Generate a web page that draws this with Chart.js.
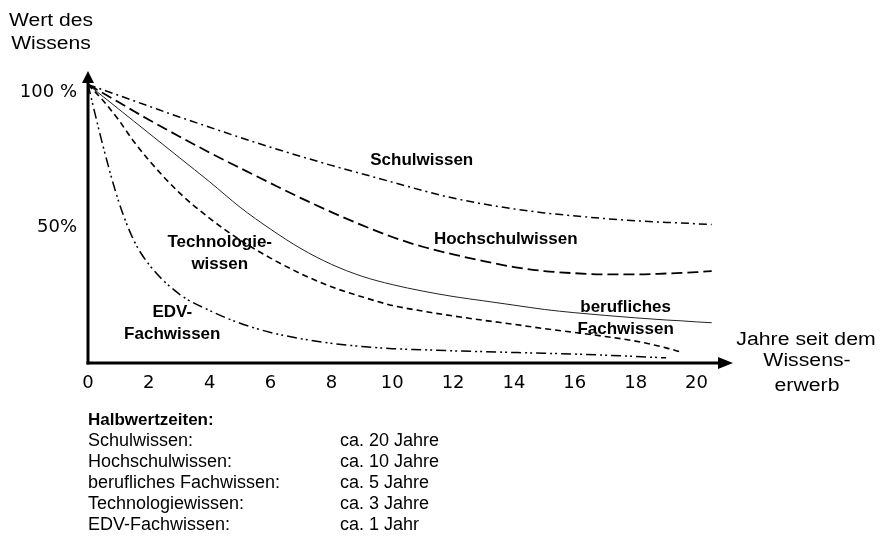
<!DOCTYPE html>
<html lang="de">
<head>
<meta charset="utf-8">
<script src="https://cdn.jsdelivr.net/npm/chart.js@4.4.1/dist/chart.umd.min.js"></script>
<style>
  html, body { margin: 0; padding: 0; background: #fff; }
</style>
</head>
<body>
<canvas id="myChart" width="880" height="536"></canvas>
<script>
// Jahre seit dem Wissenserwerb (shared x values of all curves)
const years = [0, 0.5, 1, 1.5, 2, 3, 4, 5, 6, 7, 8, 9, 10, 11, 12, 13, 14, 15, 16, 17, 18, 19, 19.5, 20, 20.5];

// Wert des Wissens in % (null = curve already ended)
const schulwissen     = [103, 101, 99, 97, 95, 91, 87.2, 83.4, 79.8, 76.4, 73.1, 70, 66.9, 63.8, 61, 58.8, 57, 55.5, 54.4, 53.4, 52.6, 52, 51.8, 51.5, 51.2];
const hochschulwissen = [103, 99.8, 96.5, 93.2, 90, 83.8, 77.8, 72.1, 66.5, 61, 55.8, 51, 46.6, 43, 40.2, 37.7, 35.5, 34, 33.2, 32.8, 32.8, 33.1, 33.3, 33.6, 34];
const beruflich       = [103, 98.5, 94, 89.5, 85, 76, 67, 57.6, 49.5, 42.3, 36.5, 32.1, 29, 26.6, 24.6, 23, 21.4, 19.8, 18.6, 17.6, 16.7, 15.9, 15.6, 15.2, 14.9];
const technologie     = [103, 97, 90, 82, 75, 63, 53.5, 45.5, 38.8, 33, 28.2, 24.5, 21.3, 19.2, 17.4, 15.8, 14.3, 12.7, 11.3, 9.8, 8.1, 5.6, 4, null, null];
const edv             = [103, 80, 60, 45.5, 36.5, 25.5, 19.4, 14.7, 11.3, 9, 7.3, 6.1, 5.3, 4.9, 4.5, 4.2, 3.9, 3.6, 3.3, 2.9, 2.4, 1.9, null, null, null];

// axis ticks
const xTicks = [0, 2, 4, 6, 8, 10, 12, 14, 16, 18, 20];
const yTicks = [50, 100];
const yTickLabels = ['50%', '100 %'];

// curve captions, anchored in data units (years, %)
const curveLabels = [
  { lines: ['Schulwissen'], x: 10.97, y: 74.8 },
  { lines: ['Hochschulwissen'], x: 13.73, y: 45.9 },
  { lines: ['Technologie-', 'wissen'], x: 4.33, y: 44.8 },
  { lines: ['EDV-', 'Fachwissen'], x: 2.77, y: 18.9 },
  { lines: ['berufliches', 'Fachwissen'], x: 17.67, y: 20.7 }
];

// Halbwertzeiten table under the chart
const halfLifeNames = ['Schulwissen:', 'Hochschulwissen:', 'berufliches Fachwissen:', 'Technologiewissen:', 'EDV-Fachwissen:'];
const halfLifeValues = ['ca. 20 Jahre', 'ca. 10 Jahre', 'ca. 5 Jahre', 'ca. 3 Jahre', 'ca. 1 Jahr'];

function toPoints(values) {
  const pts = [];
  values.forEach((v, i) => {
    if (v !== null) pts.push({ x: years[i], y: v });
  });
  return pts;
}

function makeSet(label, values, dash, width, color) {
  return {
    label: label,
    data: toPoints(values),
    borderColor: color || '#000',
    borderWidth: width,
    borderDash: dash,
    pointRadius: 0,
    fill: false,
    cubicInterpolationMode: 'monotone'
  };
}

// draws text squeezed/stretched horizontally (the original axis titles are wide)
function wideText(ctx, text, cx, cy, sx) {
  ctx.save();
  ctx.translate(cx, cy);
  ctx.scale(sx, 1);
  ctx.fillText(text, 0, 0);
  ctx.restore();
}

const decorations = {
  id: 'decorations',
  afterDatasetsDraw(chart) {
    const ctx = chart.ctx;
    const area = chart.chartArea;
    const xs = chart.scales.x;
    const ys = chart.scales.y;

    ctx.save();
    ctx.fillStyle = '#000';
    ctx.strokeStyle = '#000';
    ctx.setLineDash([]);
    ctx.lineWidth = 3;

    // y axis with arrow
    ctx.beginPath();
    ctx.moveTo(area.left, area.bottom + 1.5);
    ctx.lineTo(area.left, area.top + 10);
    ctx.stroke();
    ctx.beginPath();
    ctx.moveTo(area.left, area.top);
    ctx.lineTo(area.left - 6, area.top + 12);
    ctx.lineTo(area.left + 6, area.top + 12);
    ctx.closePath();
    ctx.fill();

    // x axis with arrow
    ctx.beginPath();
    ctx.moveTo(area.left - 1.5, area.bottom);
    ctx.lineTo(area.right - 12, area.bottom);
    ctx.stroke();
    ctx.beginPath();
    ctx.moveTo(area.right, area.bottom);
    ctx.lineTo(area.right - 15, area.bottom - 6);
    ctx.lineTo(area.right - 15, area.bottom + 6);
    ctx.closePath();
    ctx.fill();

    // curve captions
    ctx.font = 'bold 17px "Liberation Sans", Arial, sans-serif';
    ctx.textAlign = 'center';
    ctx.textBaseline = 'middle';
    curveLabels.forEach(l => {
      const px = xs.getPixelForValue(l.x);
      const py = ys.getPixelForValue(l.y);
      l.lines.forEach((t, i) => ctx.fillText(t, px, py + i * 22));
    });

    // axis titles
    ctx.font = '18px "Liberation Sans", Arial, sans-serif';
    wideText(ctx, 'Wert des', 51, 21, 1.17);
    wideText(ctx, 'Wissens', 51, 44, 1.17);
    wideText(ctx, 'Jahre seit dem', 806, 340, 1.18);
    wideText(ctx, 'Wissens-', 807, 361, 1.18);
    wideText(ctx, 'erwerb', 807, 386, 1.18);

    // Halbwertzeiten
    ctx.textAlign = 'left';
    ctx.font = 'bold 17px "Liberation Sans", Arial, sans-serif';
    ctx.fillText('Halbwertzeiten:', 88, 420);
    ctx.font = '18px "Liberation Sans", Arial, sans-serif';
    halfLifeNames.forEach((n, i) => {
      ctx.fillText(n, 88, 441 + i * 21);
      ctx.fillText(halfLifeValues[i], 340, 441 + i * 21);
    });
    ctx.restore();
  }
};

const ctx = document.getElementById('myChart');
const myChart = new Chart(ctx, {
  type: 'line',
  data: {
    datasets: [
      makeSet('Schulwissen', schulwissen, [8, 4, 2, 4], 1.5),
      makeSet('Hochschulwissen', hochschulwissen, [11, 5], 1.8),
      makeSet('berufliches Fachwissen', beruflich, [], 1, '#222'),
      makeSet('Technologiewissen', technologie, [6, 4], 1.6),
      makeSet('EDV-Fachwissen', edv, [10, 4, 2, 3, 2, 4], 1.5)
    ]
  },
  options: {
    responsive: false,
    animation: false,
    layout: { padding: { top: 71, right: 147, bottom: 0, left: 0 } },
    plugins: {
      legend: { display: false },
      tooltip: { enabled: false }
    },
    scales: {
      x: {
        type: 'linear',
        min: 0,
        max: 21.2,
        grid: { display: false, drawTicks: false },
        border: { display: false },
        afterBuildTicks: scale => { scale.ticks = xTicks.map(v => ({ value: v })); },
        afterFit: scale => { scale.height = 173; },
        ticks: {
          color: '#000',
          padding: 10,
          maxRotation: 0,
          autoSkip: false,
          font: { family: '"DejaVu Sans"', size: 18 },
          callback: v => String(v)
        }
      },
      y: {
        type: 'linear',
        min: 0,
        max: 108,
        grid: { display: false, drawTicks: false },
        border: { display: false },
        afterBuildTicks: scale => { scale.ticks = yTicks.map(v => ({ value: v })); },
        afterFit: scale => { scale.width = 88; },
        ticks: {
          color: '#000',
          padding: 11,
          font: { family: '"DejaVu Sans"', size: 18 },
          callback: v => {
            const i = yTicks.indexOf(v);
            return i >= 0 ? yTickLabels[i] : '';
          }
        }
      }
    }
  },
  plugins: [decorations]
});
</script>
</body>
</html>
